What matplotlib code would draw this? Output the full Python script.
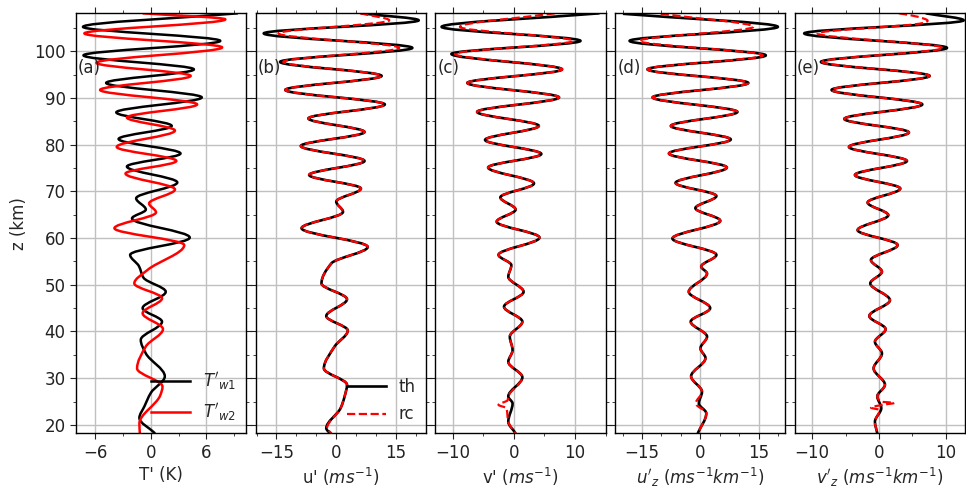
import matplotlib
matplotlib.use('Agg')
import matplotlib.pyplot as plt
from matplotlib.ticker import MultipleLocator
from matplotlib.path import Path
from matplotlib.patches import PathPatch
from matplotlib.lines import Line2D

# --- panel (a): temperature perturbations, points read at the wave extrema ---
z_tw1 = [108.1, 105.2, 102.2, 99.1, 96.1, 93.2, 90.1, 86.9, 84.0, 81.2, 78.1, 75.3, 71.9,
         68.5, 66.1, 64.2, 60.1, 56.4, 54.0, 51.5, 48.5, 45.0, 42.1, 38.2, 35.3, 30.4,
         26.9, 24.0, 21.5, 18.2]
t_w1 = [9.4, -7.35, 7.5, -7.3, 4.65, -4.85, 5.5, -3.75, 2.25, -3.5, 3.2, -2.6, 2.85,
        -1.6, -0.55, -2.05, 4.2, -2.25, -1.3, -0.8, 1.6, -0.9, 1.2, -1.1, -0.55, 1.5,
        0.0, -0.7, -1.25, 0.45]

z_tw2 = [108.1, 106.8, 103.8, 100.8, 97.5, 94.7, 91.7, 88.6, 85.8, 83.0, 79.5, 76.5, 73.8,
         70.4, 67.4, 65.5, 62.1, 58.5, 53.2, 50.3, 47.1, 43.9, 40.5, 36.8, 32.1, 28.2,
         26.3, 20.3, 18.2]
t_w2 = [-0.9, 8.05, -7.2, 7.7, -5.9, 4.3, -5.5, 5.0, -2.6, 2.6, -3.7, 2.75, -2.75,
        2.6, -0.2, 0.55, -3.95, 3.6, -0.35, -1.8, 1.2, -0.9, 1.3, -0.55, -1.5, 1.25,
        1.0, -1.25, -1.2]

# --- panel (b): u' ---
z_u_th = [108.1, 106.6, 103.8, 100.7, 97.7, 94.7, 91.7, 88.6, 85.6, 82.7, 79.7, 76.5, 73.5,
          70.6, 67.8, 65.6, 62.1, 58.1, 54.6, 50.3, 46.9, 43.3, 40.2, 36.8, 32.1, 28.6,
          26.1, 23.6, 19.3, 18.2]
u_th = [6.2, 20.7, -18.2, 19.1, -14.1, 11.4, -12.8, 12.2, -7.0, 7.1, -8.9, 7.1, -6.8,
        6.2, 0.0, 1.7, -8.7, 7.9, -1.2, -3.7, 2.7, -2.5, 2.9, -0.4, -3.1, 2.7,
        2.1, 1.1, -2.5, -1.6]
z_u_rc = z_u_th
u_rc = [6.0, 13.3, -14.5, 15.8, -13.3, 11.4, -12.8, 12.2, -7.0, 7.1, -8.9, 7.1, -6.8,
        6.2, 0.0, 1.7, -8.7, 7.9, -1.2, -3.7, 2.7, -2.5, 2.9, -0.4, -3.1, 2.7,
        2.1, 1.1, -2.3, -1.2]

# --- panel (c): v' ---
z_v_th = [108.1, 105.2, 102.2, 99.4, 96.1, 93.2, 90.1, 87.0, 84.0, 81.0, 78.0, 75.1, 71.7,
          68.7, 66.1, 63.5, 60.1, 56.4, 54.2, 51.7, 48.5, 45.3, 42.1, 38.9, 36.0, 33.5,
          30.2, 26.1, 24.6, 20.7, 18.2]
v_th = [14.0, -11.8, 10.9, -10.2, 7.9, -7.6, 7.4, -6.0, 4.1, -4.7, 4.5, -4.2, 3.3,
        -2.2, 0.3, -2.8, 4.2, -2.5, -0.4, -0.9, 1.6, -1.6, 1.4, -0.65, -0.2, -0.9,
        1.4, -0.9, -0.2, -0.9, 0.3]
z_v_rc = [108.1, 105.2, 102.2, 99.4, 96.1, 93.2, 90.1, 87.0, 84.0, 81.0, 78.0, 75.1, 71.7,
          68.7, 66.1, 63.5, 60.1, 56.4, 54.2, 51.7, 48.5, 45.3, 42.1, 38.9, 36.0, 33.5,
          30.2, 26.1, 25.3, 24.3, 23.6, 20.7, 18.2]
v_rc = [6.7, -8.8, 9.7, -9.6, 7.9, -7.6, 7.4, -6.0, 4.1, -4.7, 4.5, -4.2, 3.3,
        -2.2, 0.3, -2.8, 4.2, -2.5, -0.4, -0.9, 1.6, -1.6, 1.4, -0.65, -0.2, -0.9,
        1.4, -0.9, -1.0, -2.5, -1.2, -0.9, 0.3]

# --- panel (d): u'_z ---
z_uz_th = [108.0, 105.2, 102.2, 99.1, 96.1, 93.2, 90.1, 87.0, 84.0, 81.1, 78.1, 75.1, 71.8,
           69.0, 66.4, 63.7, 59.9, 56.4, 53.9, 52.4, 48.5, 45.0, 42.1, 38.9, 36.4, 34.3,
           30.4, 27.1, 24.6, 22.5, 18.2]
uz_th = [-19.9, 19.9, -18.2, 16.8, -13.6, 12.3, -12.3, 9.5, -7.6, 7.8, -8.1, 6.8, -6.4,
         4.1, -1.3, 5.1, -7.2, 4.1, 0.2, 1.7, -3.0, 2.5, -2.5, 1.7, 0.0, 1.3,
         -2.4, 0.4, -0.4, 1.5, -0.7]
z_uz_rc = z_uz_th
uz_rc = [-10.2, 13.6, -15.7, 16.0, -13.6, 12.3, -12.3, 9.5, -7.6, 7.8, -8.1, 6.8, -6.4,
         4.1, -1.3, 5.1, -7.2, 4.1, 0.2, 1.7, -3.0, 2.5, -2.5, 1.7, 0.0, 1.3,
         -2.4, 0.4, -1.2, 1.5, -0.7]

# --- panel (e): v'_z ---
z_vz_th = [108.1, 106.6, 103.8, 100.7, 97.7, 94.7, 91.7, 88.6, 85.5, 82.6, 79.5, 76.5, 73.5,
           70.6, 67.6, 64.9, 61.7, 58.5, 55.3, 52.8, 50.3, 46.7, 43.3, 40.5, 37.8, 35.3,
           32.1, 28.6, 26.1, 23.6, 20.7, 18.2]
vz_th = [7.0, 12.7, -11.2, 10.2, -8.7, 7.6, -7.1, 6.5, -5.2, 4.5, -4.5, 4.2, -3.6,
         3.2, -1.7, 1.4, -3.2, 2.8, -1.2, 0.45, -1.3, 1.65, -1.45, 1.0, -0.6, 0.45,
         -0.8, 0.9, -0.25, 0.35, -0.6, -0.25]
z_vz_rc = [108.1, 107.3, 106.5, 106.0, 103.8, 100.7, 97.7, 94.7, 91.7, 88.6, 85.5, 82.6,
           79.5, 76.5, 73.5, 70.6, 67.6, 64.9, 61.7, 58.5, 55.3, 52.8, 50.3, 46.7, 43.3,
           40.5, 37.8, 35.3, 32.1, 28.6, 26.1, 25.0, 24.7, 24.4, 23.7, 23.2, 20.7, 18.2]
vz_rc = [3.0, 6.0, 7.3, 6.5, -9.2, 9.6, -8.5, 7.6, -7.1, 6.5, -5.2, 4.5,
         -4.5, 4.2, -3.6, 3.2, -1.7, 1.4, -3.2, 2.8, -1.2, 0.45, -1.3, 1.65, -1.45,
         1.0, -0.6, 0.45, -0.8, 0.9, -0.25, 0.3, 2.3, 1.0, -1.2, 0.1, -0.6, -0.25]

xlabels = ["T' (K)", "u' ($ms^{-1}$)", "v' ($ms^{-1}$)",
           "$u'_z$ ($ms^{-1}km^{-1}$)", "$v'_z$ ($ms^{-1}km^{-1}$)"]
panel_tags = ['(a)', '(b)', '(c)', '(d)', '(e)']
xlims = [(-8.1, 10.3), (-20.2, 22.5), (-12.8, 15.0), (-21.9, 21.8), (-12.6, 12.9)]
xmajor = [6, 15, 10, 15, 10]
xminor = [3, 5, 5, 5, 5]


def profile_path(xs, zs):
    """Smooth path through the read points (vertical tangent at each turning point)."""
    n = len(xs)
    slopes = []
    for i in range(n):
        if i == 0 or i == n - 1:
            j, k = (0, 1) if i == 0 else (n - 2, n - 1)
            slopes.append((xs[k] - xs[j]) / (zs[k] - zs[j]))
            continue
        s1 = (xs[i] - xs[i - 1]) / (zs[i] - zs[i - 1])
        s2 = (xs[i + 1] - xs[i]) / (zs[i + 1] - zs[i])
        if s1 * s2 <= 0:
            slopes.append(0.0)
        else:
            slopes.append(2 * s1 * s2 / (s1 + s2))
    verts = [(xs[0], zs[0])]
    codes = [Path.MOVETO]
    for i in range(n - 1):
        h = zs[i + 1] - zs[i]
        verts.append((xs[i] + slopes[i] * h / 3, zs[i] + h / 3))
        verts.append((xs[i + 1] - slopes[i + 1] * h / 3, zs[i + 1] - h / 3))
        verts.append((xs[i + 1], zs[i + 1]))
        codes += [Path.CURVE4] * 3
    return Path(verts, codes)


def draw_profile(ax, xs, zs, **kw):
    ax.add_patch(PathPatch(profile_path(xs, zs), fill=False, joinstyle='round', **kw))


txt = '#262626'
plt.rcParams['font.size'] = 12
plt.rcParams['text.color'] = txt
plt.rcParams['axes.labelcolor'] = txt
plt.rcParams['xtick.color'] = '#222222'
plt.rcParams['ytick.color'] = '#222222'

fig, axes = plt.subplots(1, 5, sharey=True, figsize=(9.66, 4.93), dpi=100)
fig.subplots_adjust(left=0.0787, right=0.999, top=0.973, bottom=0.121, wspace=0.056)

ax = axes[0]
draw_profile(ax, t_w1, z_tw1, edgecolor='black', lw=1.8)
draw_profile(ax, t_w2, z_tw2, edgecolor='red', lw=1.8)
ax.legend([Line2D([], [], color='black', lw=1.8), Line2D([], [], color='red', lw=1.8)],
          ["$T'_{w1}$", "$T'_{w2}$"], loc='lower right', frameon=False,
          handlelength=2.3, labelspacing=0.55, fontsize=12, borderaxespad=0.2,
          handletextpad=0.8)

pairs = [(u_th, z_u_th, u_rc, z_u_rc),
         (v_th, z_v_th, v_rc, z_v_rc),
         (uz_th, z_uz_th, uz_rc, z_uz_rc),
         (vz_th, z_vz_th, vz_rc, z_vz_rc)]
for ax, (xth, zth, xrc, zrc) in zip(axes[1:], pairs):
    draw_profile(ax, xth, zth, edgecolor='black', lw=1.9)
    draw_profile(ax, xrc, zrc, edgecolor='red', lw=1.6, ls='--')
axes[1].legend([Line2D([], [], color='black', lw=1.9),
                Line2D([], [], color='red', lw=1.6, ls='--')],
               ['th', 'rc'], loc='lower right', frameon=False, handlelength=2.3,
               labelspacing=0.55, fontsize=12, borderaxespad=0.2, handletextpad=0.8)

for i, ax in enumerate(axes):
    ax.set_xlim(*xlims[i])
    ax.set_ylim(18.2, 108.1)
    ax.xaxis.set_major_locator(MultipleLocator(xmajor[i]))
    ax.xaxis.set_minor_locator(MultipleLocator(xminor[i]))
    ax.yaxis.set_major_locator(MultipleLocator(10))
    ax.yaxis.set_minor_locator(MultipleLocator(5))
    ax.tick_params(which='both', direction='out', top=True, right=True)
    ax.tick_params(which='major', length=4)
    ax.tick_params(which='minor', length=2.5)
    ax.grid(True, which='major', color='#c0c0c0', lw=1.0)
    ax.set_axisbelow(True)
    ax.set_xlabel(xlabels[i], labelpad=3)
    ax.text(0.012, 0.87, panel_tags[i], transform=ax.transAxes, ha='left', va='center',
            fontsize=12)
    for s in ax.spines.values():
        s.set_linewidth(1.0)

axes[0].set_ylabel('z (km)')

fig.savefig('out.png', dpi=100)
